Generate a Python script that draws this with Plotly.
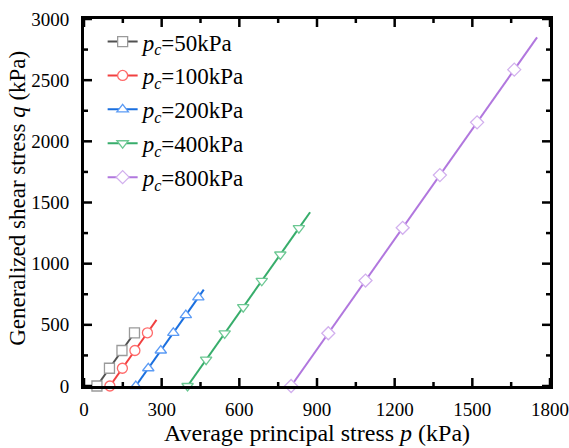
import plotly.graph_objects as go

# ---- data ----
pc_values = [50, 100, 200, 400, 800]
series_names = ["50kPa", "100kPa", "200kPa", "400kPa", "800kPa"]
# q values at marker positions (kPa)
q_markers = {
    50: [0, 145, 290, 435],
    100: [0, 145, 290, 435],
    200: [0, 145, 290, 435, 580, 725],
    400: [0, 215, 430, 645, 860, 1075, 1290],
    800: [0, 431, 862, 1293, 1724, 2155, 2586],
}
# q value at the end of each curve (kPa)
q_end = {50: 435, 100: 540, 200: 788, 400: 1420, 800: 2850}
# slope of stress path (conventional triaxial compression: dq/dp = 3)
path_slope = 3.0

line_colors = ["#515151", "#F14040", "#1A6FDF", "#37AD6B", "#B177DE"]
marker_colors = ["#9a9a9a", "#ff6a6a", "#5b9bf5", "#6cc893", "#d2b0ee"]
symbols = ["square", "circle", "triangle-up", "triangle-down", "diamond"]

x_tick_step, x_minor_step, x_max = 300, 150, 1800
y_tick_step, y_minor_step, y_max = 500, 250, 3000

FONT = "Liberation Serif"
MAJOR_LEN, MINOR_LEN = 8, 4

fig = go.Figure()
for i, pc in enumerate(pc_values):
    qm = q_markers[pc]
    pm = [pc + q / path_slope for q in qm]
    qe = q_end[pc]
    if qe > qm[-1]:
        fig.add_trace(go.Scatter(
            x=[pm[-1], pc + qe / path_slope], y=[qm[-1], qe],
            mode="lines", line=dict(color=line_colors[i], width=2),
            legendgroup=str(pc), showlegend=False, cliponaxis=False,
            hoverinfo="skip"))
    fig.add_trace(go.Scatter(
        x=pm, y=qm, mode="lines+markers",
        name="<i>p</i><sub><i>c</i></sub>=" + series_names[i],
        line=dict(color=line_colors[i], width=2),
        marker=dict(symbol=symbols[i], size=10, color="white",
                    line=dict(color=marker_colors[i], width=1.3)),
        legendgroup=str(pc), cliponaxis=False))

# inward-pointing tick marks on all four sides (fixed pixel length)
tick_line = dict(color="black", width=2.5)
for v in range(0, x_max + 1, x_minor_step):
    ln = MAJOR_LEN if v % x_tick_step == 0 else MINOR_LEN
    fig.add_shape(type="line", xref="x", yref="paper", ysizemode="pixel",
                  yanchor=0, x0=v, x1=v, y0=0, y1=ln, line=tick_line)
    fig.add_shape(type="line", xref="x", yref="paper", ysizemode="pixel",
                  yanchor=1, x0=v, x1=v, y0=0, y1=-ln, line=tick_line)
for v in range(0, y_max + 1, y_minor_step):
    ln = MAJOR_LEN if v % y_tick_step == 0 else MINOR_LEN
    fig.add_shape(type="line", xref="paper", yref="y", xsizemode="pixel",
                  xanchor=0, x0=0, x1=ln, y0=v, y1=v, line=tick_line)
    fig.add_shape(type="line", xref="paper", yref="y", xsizemode="pixel",
                  xanchor=1, x0=0, x1=-ln, y0=v, y1=v, line=tick_line)

fig.update_layout(
    width=569, height=448,
    margin=dict(l=84, r=19, t=19, b=62),
    paper_bgcolor="white", plot_bgcolor="white",
    font=dict(family=FONT, color="black", size=16),
    legend=dict(x=0.040, y=0.997, xanchor="left", yanchor="top",
                font=dict(family=FONT, size=23, color="black"),
                bgcolor="rgba(0,0,0,0)", traceorder="grouped",
                tracegroupgap=1),
    xaxis=dict(range=[0, x_max], tickmode="linear", tick0=0, dtick=x_tick_step,
               showline=True, linecolor="black", linewidth=3, mirror=True,
               ticks="", showgrid=False, zeroline=False, automargin=False,
               ticklabelstandoff=4,
               tickfont=dict(family=FONT, size=19, color="black"),
               title=dict(text="Average principal stress <i>p</i> (kPa)",
                          font=dict(family=FONT, size=24, color="black"),
                          standoff=4)),
    yaxis=dict(range=[0, y_max], tickmode="linear", tick0=0, dtick=y_tick_step,
               showline=True, linecolor="black", linewidth=3, mirror=True,
               ticks="", showgrid=False, zeroline=False, automargin=False,
               ticklabelstandoff=8,
               tickfont=dict(family=FONT, size=19, color="black")),
    annotations=[dict(text="Generalized shear stress <i>q</i> (kPa)",
                      xref="paper", yref="paper", x=0, y=0.51,
                      xshift=-66, xanchor="center", yanchor="middle",
                      textangle=-90, showarrow=False,
                      font=dict(family=FONT, size=23, color="black"))],
)

fig.write_html("out.html", config={"displayModeBar": False})
with open("out.html", "r", encoding="utf-8") as f:
    html = f.read()
html = html.replace("<head>", "<head><style>html,body{margin:0;padding:0;overflow:hidden;}</style>", 1)
with open("out.html", "w", encoding="utf-8") as f:
    f.write(html)
